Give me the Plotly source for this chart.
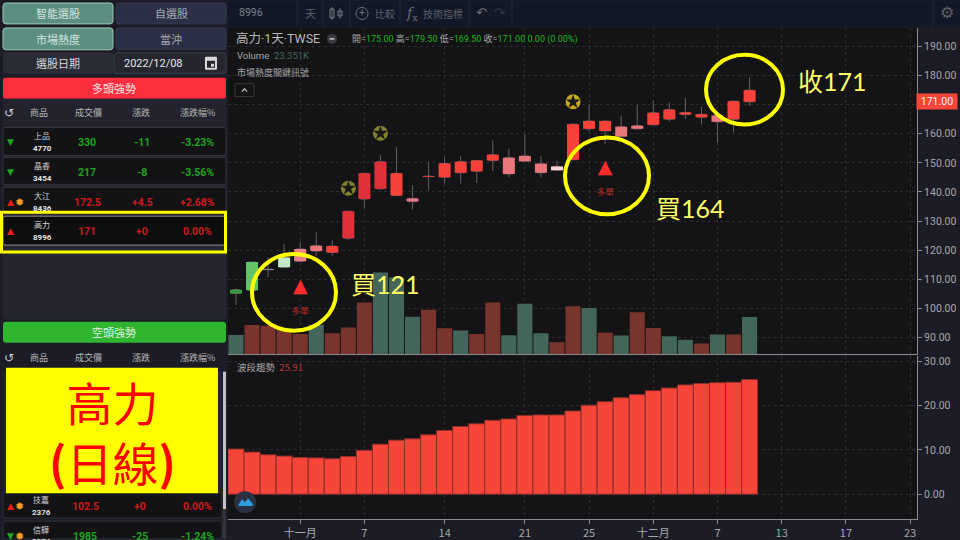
import plotly.graph_objects as go

# ---------- data ----------
tick_pos = [4, 8, 13, 18, 22, 26, 30, 34, 38, 42]
tick_txt = ["十一月", "7", "14", "21", "25", "十二月", "7", "13", "17", "23"]
price_ticks = [90, 100, 110, 120, 130, 140, 150, 160, 170, 180, 190]
trend_ticks = [0, 10, 20, 30]

opens = [106.4, 115.9, 113.3, 117.5, 116.2, 119.7, 119.2, 124.1, 137.6, 141.1, 138.8, 136.7, 145.3, 145.1, 146.6, 147.1, 150.8,
         146.2, 150.6, 146.6, 147.5, 151.1, 161.7, 161.0, 159.1, 161.7, 163.1, 165.0, 166.6, 165.7, 164.1, 165.0, 175.0]
closes = [105.1, 106.2, 113.4, 114.1, 120.4, 121.5, 121.4, 133.4, 146.4, 150.4, 146.4, 137.8, 145.4, 149.8, 150.4, 150.8, 152.8,
          151.8, 152.4, 149.7, 148.8, 163.3, 164.4, 164.4, 162.4, 162.8, 167.2, 168.3, 167.3, 166.7, 166.3, 171.2, 171.0]
highs = [106.9, 115.9, 117.5, 122.1, 122.9, 126.1, 123.4, 133.4, 146.4, 152.6, 155.4, 142.3, 150.4, 152.0, 152.4, 150.8, 157.7,
         154.9, 160.0, 152.4, 150.8, 163.3, 170.0, 164.4, 166.3, 169.9, 171.4, 170.8, 172.3, 169.3, 166.3, 171.6, 179.5]
lows = [101.1, 106.2, 110.7, 114.1, 116.2, 118.0, 118.1, 123.4, 134.6, 140.8, 138.8, 134.0, 140.6, 142.9, 142.9, 143.1, 147.2,
        145.1, 150.6, 145.1, 147.5, 151.1, 160.8, 156.5, 159.1, 161.7, 163.1, 164.2, 165.1, 163.2, 156.9, 160.6, 169.5]
candle_colors = ["#3a9a48", "#62c268", "#8a8a8a", "#c5e8c8", "#e8808a", "#e9757d", "#f8413a", "#e0303a", "#e0303a", "#e0303a", "#f8413a",
                 "#e37a85", "#c84040", "#f8413a", "#f8413a", "#f8413a", "#f8413a", "#e9757d", "#e9757d", "#e9757d", "#fbd5dc", "#f8413a",
                 "#f8413a", "#f8413a", "#e9757d", "#e9757d", "#f8413a", "#f8413a", "#f8413a", "#f8413a", "#e9757d", "#f8413a", "#f8413a"]
volumes = [12.1, 18.3, 17.9, 14.8, 12.7, 18.5, 13.1, 16.7, 32.5, 51.3, 48.1, 23.5, 27.9, 16.3, 14.8, 12.7, 32.4,
           11.9, 31.7, 13.1, 7.5, 30.0, 29.0, 13.5, 11.7, 26.3, 16.5, 11.3, 9.0, 6.7, 12.3, 12.3, 23.35]
vol_up = [0, 1, 1, 1, 1, 0, 1, 1, 1, 0, 0, 0, 1, 1, 0, 1, 1, 0, 0, 0, 1, 1, 0, 1, 0, 1, 1, 0, 0, 1, 0, 1, 0]
trend = [10.2, 9.5, 8.9, 8.6, 8.3, 8.2, 8.0, 8.5, 9.9, 11.3, 12.2, 12.5, 13.4, 14.4, 15.3, 15.9, 16.7, 17.0, 17.8,
         17.9, 17.9, 18.8, 20.1, 20.9, 21.8, 22.5, 23.4, 24.0, 24.7, 25.0, 25.2, 25.3, 25.91]

star_x = [7, 9, 21]
star_y = [141.3, 160.2, 171.0]
star_fill = ["#7f8030", "#7f8030", "#c4a820"]
signal_x = [4, 23]
signal_y = [107.1, 148.0]
signal_label_y = [98.9, 139.8]

bull_rows = [("▼", "", "上品", "4770", "330", "-11", "-3.23%"), ("▼", "", "晶睿", "3454", "217", "-8", "-3.56%"),
             ("▲", "✹", "大江", "8436", "172.5", "+4.5", "+2.68%"), ("▲", "", "高力", "8996", "171", "+0", "0.00%")]
bull_row_y = [142, 172, 202, 231]
bear_rows = [("▲", "✹", "技嘉", "2376", "102.5", "+0", "0.00%"), ("▼", "✹", "信驊", "5274", "1985", "-25", "-1.24%")]
bear_row_y = [507, 537]
header_cols = ["商品", "成交價", "漲跌", "漲跌幅%"]

FONT = "Roboto, 'Noto Sans CJK TC', sans-serif"
CJK = "'Noto Sans CJK TC', sans-serif"
LATO = "Lato, 'Noto Sans CJK TC', sans-serif"
BG = "#141416"
RED = "#cf1a1a"
GREEN = "#1fa51f"


def fx(x):
    return x / 960


def fy(y):
    return 1 - y / 540


shapes, notes = [], []


def box(x0, y0, x1, y1, fill, line=None, r=0, w=1, layer="below"):
    if r:
        ax, ay = r / 960, r / 540
        a0, a1, b0, b1 = fx(x0), fx(x1), fy(y0), fy(y1)
        p = (f"M{a0+ax},{b0} L{a1-ax},{b0} Q{a1},{b0} {a1},{b0-ay} L{a1},{b1+ay} Q{a1},{b1} {a1-ax},{b1} "
             f"L{a0+ax},{b1} Q{a0},{b1} {a0},{b1+ay} L{a0},{b0-ay} Q{a0},{b0} {a0+ax},{b0} Z")
        shapes.append(dict(type="path", xref="paper", yref="paper", path=p, fillcolor=fill,
                           line=dict(color=line or fill, width=w if line else 0), layer=layer))
    else:
        shapes.append(dict(type="rect", xref="paper", yref="paper", x0=fx(x0), x1=fx(x1), y0=fy(y0), y1=fy(y1),
                           fillcolor=fill, line=dict(color=line or fill, width=w if line else 0), layer=layer))


def vline(x, y0, y1, color, w=1, layer="below"):
    shapes.append(dict(type="line", xref="paper", yref="paper", x0=fx(x), x1=fx(x), y0=fy(y0), y1=fy(y1),
                       line=dict(color=color, width=w), layer=layer))


def circle(x0, y0, x1, y1, line, w, fill="rgba(0,0,0,0)", layer="above"):
    shapes.append(dict(type="circle", xref="paper", yref="paper", x0=fx(x0), x1=fx(x1), y0=fy(y0), y1=fy(y1),
                       fillcolor=fill, line=dict(color=line, width=w), layer=layer))


def poly(pts, line=None, fill=None, w=1, layer="above"):
    p = "M" + " L".join(f"{fx(a)},{fy(b)}" for a, b in pts)
    if fill:
        p += " Z"
    shapes.append(dict(type="path", xref="paper", yref="paper", path=p, fillcolor=fill or "rgba(0,0,0,0)",
                       line=dict(color=line or "rgba(0,0,0,0)", width=w), layer=layer))


def label(x, y, s, size=11, color="#ccc", anchor="center", font=FONT):
    notes.append(dict(xref="paper", yref="paper", x=fx(x), y=fy(y), text=s, showarrow=False, xanchor=anchor,
                      yanchor="middle", font=dict(size=size, color=color, family=font)))


# ---------- left panel ----------
box(3, 2, 113, 23, "#5b8f82", "#9fc4ba", r=3)
box(116, 2, 226, 23, "#2c3046", "#34384e", r=3)
box(3, 27, 113, 49, "#5b8f82", "#9fc4ba", r=3)
box(116, 27, 226, 49, "#2c3046", "#34384e", r=3)
box(3, 52, 113, 73, "#2a2c36", r=2)
box(114, 52, 226, 73, "#25262e", "#3c3e48", r=3)
label(58, 12.5, "智能選股", 11, "#d5e4df", font=CJK)
label(171, 12.5, "自選股", 11, "#a8aab4", font=CJK)
label(58, 38, "市場熱度", 11, "#d5e4df", font=CJK)
label(171, 38, "當沖", 11, "#a8aab4", font=CJK)
label(58, 62.5, "選股日期", 11, "#d8d8d8", font=CJK)
label(153, 63, "2022/12/08", 11, "#e6e6e6")
box(205, 56, 217, 69, "#d8d8d8", r=1, layer="above")
box(207, 60, 215, 67, "#25262e", layer="above")
box(211, 63, 214, 66, "#d8d8d8", layer="above")

box(3, 77, 226, 98, "#ff2e3e", r=2)
label(114, 87, "多頭強勢", 11, "#f2e6e6", font=CJK)
box(3, 98, 226, 125, "#22232c")
box(3, 125, 226, 320, "#25262f", r=4)
for y0, y1 in [(127, 155), (157, 184), (187, 213), (216, 245)]:
    box(3, y0, 226, y1, "#131316", "#33343c", r=2)
box(3, 216, 226, 245, "#0e0e10", "#8a8a8a", r=2)
box(1.5, 212, 225.5, 252, "rgba(0,0,0,0)", "#ffff00", w=3, layer="above")


def header(y):
    label(9, y, "↺", 12, "#cccccc", font="DejaVu Sans")
    for cx, s in zip([39, 88, 141, 197], header_cols):
        label(cx, y, s, 9, "#b8b8b8", font=CJK)


def rows(data, ys, cols):
    for (arrow, sun, name, code, price, chg, pct), y in zip(data, ys):
        col = GREEN if arrow == "▼" else RED
        label(10, y, arrow, 9, col if col == GREEN else "#ee2020", font="DejaVu Sans")
        if sun:
            label(19.5, y, sun, 11, "#f5a020", font="DejaVu Sans")
        label(cols[0], y - 7, name, 8, "#d8d8d8", font=CJK)
        label(cols[0], y + 6, f"<b>{code}</b>", 8, "#e4e4e4")
        label(cols[1], y, f"<b>{price}</b>", 10.5, col)
        label(cols[2], y, f"<b>{chg}</b>", 10.5, col)
        label(cols[3], y, f"<b>{pct}</b>", 10.5, col)


header(112)
rows(bull_rows, bull_row_y, [42, 87, 142, 197])

box(3, 322, 226, 343, "#2fb52f", r=3)
label(114, 332, "空頭強勢", 11, "#e4f2e4", font=CJK)
header(358)
box(3, 372, 222, 519, "#22232c")
box(3, 493, 222, 519, "#131316", "#33343c", r=2)
box(3, 522, 222, 540, "#131316", "#33343c", r=2)
box(223, 372, 226, 510, "#c2c2c2")
box(223, 510, 226, 540, "#33343c")
rows(bear_rows, bear_row_y, [41, 85, 140, 197])
box(6, 368, 218, 494, "#ffff00", layer="above")
label(112, 432, "高力<br><b>(</b>日線<b>)</b>", 46, "#ff0000", font=CJK)

# ---------- toolbar ----------
box(228, 0, 960, 26, "#131829")
for x in [297, 323, 350, 400, 469, 512, 933]:
    vline(x, 0, 26, "#232840")
label(237, 12, "8996", 10.5, "#7d8088", anchor="left")
label(310, 12.5, "天", 11, "#5d6068", font=CJK)
poly([(332, 6), (332, 19)], "#6a6d75", w=1)
box(330, 8, 334, 17, "rgba(0,0,0,0)", "#7a7d85", layer="above")
poly([(340, 7), (340, 18)], "#6a6d75", w=1)
box(338, 10, 342, 15, "rgba(0,0,0,0)", "#7a7d85", layer="above")
circle(356, 6.5, 368, 18.5, "#6a6d75", 1)
label(362, 12, "+", 11, "#6a6d75")
label(385, 12.5, "比較", 10, "#5d6068", font=CJK)
label(412, 13, "<i>f</i><sub>x</sub>", 14, "#6a6d75", font="DejaVu Serif")
label(443, 12.5, "技術指標", 10, "#5d6068", font=CJK)
label(481, 12, "↶", 13, "#6a6d75", font="DejaVu Sans")
label(500, 12, "↷", 13, "#33363e", font="DejaVu Sans")
label(947, 12, "⚙", 16, "#5d6068", font="DejaVu Sans")

# ---------- chart legends ----------
label(234, 38, "高力·1天·TWSE", 12.5, "#b8b8b8", anchor="left")
circle(327, 33, 337, 43, "#3c3c40", 0, fill="#3c3c40")
poly([(329.5, 38), (334.5, 38)], "#c8c8c8", w=1.5)
g = "#22b422"
label(350, 38, f'開=<span style="color:{g}">175.00</span> 高=<span style="color:{g}">179.50</span> '
               f'低=<span style="color:{g}">169.50</span> 收=<span style="color:{g}">171.00</span> '
               f'<span style="color:{g}">0.00 (0.00%)</span>', 9, "#aaaaaa", anchor="left")
label(235, 55, 'Volume  <span style="color:#44665a">23.351K</span>', 9.5, "#a8a8a8", anchor="left")
label(235, 72, "市場熱度關鍵訊號", 9, "#a8a8a8", anchor="left", font=CJK)
box(235, 83, 254, 96, "rgba(0,0,0,0)", "#3a3a3e", r=1, layer="above")
poly([(242, 91), (244.5, 88), (247, 91)], "#c8c8c8", w=1.2)
label(235, 367, '波段趨勢  <span style="color:#b03a34">25.91</span>', 9.5, "#a8a8a8", anchor="left", font=CJK)

# logo
circle(234, 492, 256, 514, "#2b3040", 0, fill="#2b3040")
poly([(238, 506), (242, 500), (245, 503), (248, 499), (253, 505), (252, 507), (239, 507)], fill="#2f9de4")

# overlays
circle(252, 254, 336, 331, "#ffff00", 4)
circle(565, 137, 649, 214, "#ffff00", 4)
circle(706, 54, 783, 124, "#ffff00", 4)
label(349, 284, "買121", 25, "#ffff66", anchor="left", font=LATO)
label(654, 208, "買164", 25, "#ffff66", anchor="left", font=LATO)
label(796, 80, "收171", 25, "#ffff66", anchor="left", font=LATO)
notes.append(dict(xref="paper", yref="y", x=fx(937), y=171, text="171.00", showarrow=False, xanchor="center", yanchor="middle",
                  width=38, height=13, bgcolor="#f8453a", font=dict(size=10.5, color="#f4f4f4", family=FONT)))

# ---------- figure ----------
x = list(range(len(closes)))
fig = go.Figure()
fig.add_trace(go.Candlestick(x=x, open=opens, high=highs, low=lows, close=closes, xaxis="x", yaxis="y", whiskerwidth=0,
                             increasing=dict(line=dict(color="#6a5c5c", width=1), fillcolor="#6a5c5c"),
                             decreasing=dict(line=dict(color="#6a5c5c", width=1), fillcolor="#6a5c5c"),
                             showlegend=False, hoverinfo="skip"))
fig.add_trace(go.Bar(x=x, base=[min(a, b) for a, b in zip(opens, closes)], y=[abs(a - b) for a, b in zip(opens, closes)],
                     width=0.75, marker=dict(color=candle_colors, line=dict(width=0)), xaxis="x", yaxis="y4", showlegend=False))
fig.add_trace(go.Bar(x=x, y=volumes, width=0.94, marker=dict(color=["#7a342e" if u else "#44665a" for u in vol_up], line=dict(width=0)),
                     xaxis="x", yaxis="y3", showlegend=False))
fig.add_trace(go.Bar(x=x, y=trend, width=1, marker=dict(color="#f8453a", line=dict(color="#8a2e28", width=1)),
                     xaxis="x2", yaxis="y2", showlegend=False))
fig.add_trace(go.Scatter(x=star_x, y=star_y, mode="markers", marker=dict(symbol="circle", size=15, color=star_fill),
                         xaxis="x", yaxis="y4", showlegend=False))
fig.add_trace(go.Scatter(x=star_x, y=star_y, mode="markers", marker=dict(symbol="star", size=11, color="#1a1a18"),
                         xaxis="x", yaxis="y4", showlegend=False))
fig.add_trace(go.Scatter(x=signal_x, y=signal_y, mode="text", text=["▲", "▲"],
                         textfont=dict(size=19, color="#fa2d2d", family="DejaVu Sans"), xaxis="x", yaxis="y4", showlegend=False))
fig.add_trace(go.Scatter(x=signal_x, y=signal_label_y, mode="text", text=["多單", "多單"],
                         textfont=dict(size=8.5, color="#b82a2a", family=CJK), xaxis="x", yaxis="y4", showlegend=False))

xr = [-0.498, 42.43]
dom = [fx(228), fx(917)]
grid = "#2c2c2e"
P = [84.25, 196.4]
fig.update_layout(
    width=960, height=540, margin=dict(l=0, r=0, t=0, b=0), paper_bgcolor="#1b1c26", plot_bgcolor=BG,
    barmode="overlay", showlegend=False, shapes=shapes, annotations=notes,
    font=dict(family=FONT, color="#aaaaaa", size=11), dragmode=False,
    xaxis=dict(domain=dom, range=xr, anchor="y", tickvals=tick_pos, showticklabels=False, showgrid=True,
               gridcolor=grid, griddash="dot", gridwidth=1, zeroline=False, showline=True, linecolor="#8a8a8a",
               ticks="", rangeslider=dict(visible=False), fixedrange=True),
    xaxis2=dict(domain=dom, range=xr, anchor="y2", tickvals=tick_pos, ticktext=tick_txt, showgrid=True, gridcolor=grid,
                griddash="dot", zeroline=False, showline=True, linecolor="#8a8a8a", ticks="outside", ticklen=4, tickcolor="#8a8a8a",
                tickfont=dict(size=11, color="#a8a8a8", family=CJK), fixedrange=True),
    yaxis=dict(domain=[fy(354.5), fy(27)], range=P, side="right", anchor="x", tickvals=price_ticks,
               ticktext=["" if v == 170 else f"{v:.2f}" for v in price_ticks],
               showgrid=True, gridcolor=grid, griddash="dot", zeroline=False, showline=True, linecolor="#8a8a8a", ticks="outside",
               ticklen=4, tickcolor="#8a8a8a", tickfont=dict(size=10.5, color="#a8a8a8"), fixedrange=True),
    yaxis3=dict(domain=[fy(354.5), fy(27)], range=[0, 204.7], overlaying="y", anchor="x", visible=False, fixedrange=True),
    yaxis4=dict(domain=[fy(354.5), fy(27)], range=P, overlaying="y", anchor="x", visible=False, fixedrange=True),
    yaxis2=dict(domain=[fy(519.5), fy(356)], range=[-5.52, 31.3], side="right", anchor="x2", tickvals=trend_ticks,
                ticktext=[f"{v:.2f}" for v in trend_ticks], showgrid=True, gridcolor=grid, griddash="dot", zeroline=False,
                showline=True, linecolor="#8a8a8a", ticks="outside", ticklen=4, tickcolor="#8a8a8a",
                tickfont=dict(size=10.5, color="#a8a8a8"), fixedrange=True),
)
fig.write_html("out.html", config=dict(displayModeBar=False), post_script="document.body.style.margin='0';")
